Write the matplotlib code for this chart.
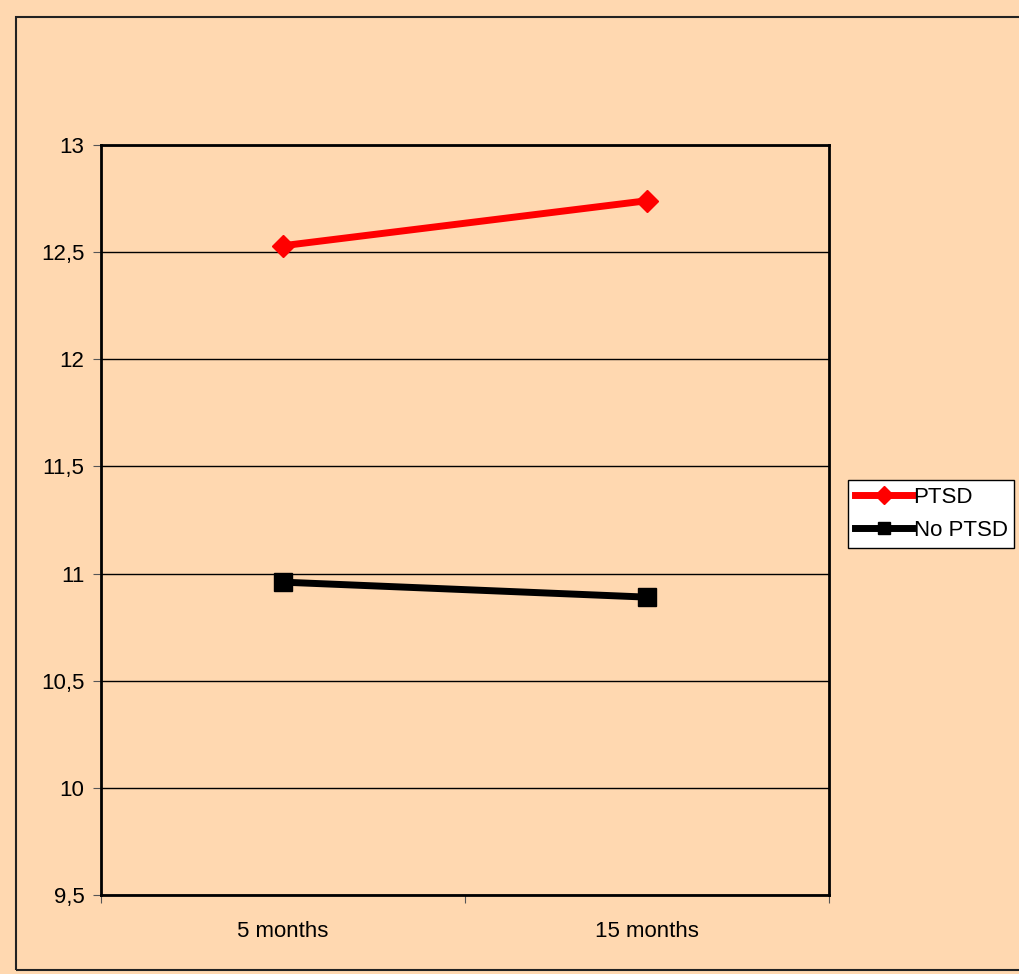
import matplotlib
matplotlib.use("Agg")
import matplotlib.pyplot as plt
from matplotlib.patches import Rectangle
import numpy as np

plt.rcParams['font.family'] = ['Liberation Sans', 'DejaVu Sans']

categories = ['5 months', '15 months']
ptsd = [12.53, 12.74]
no_ptsd = [10.96, 10.89]
yticks = [9.5, 10, 10.5, 11, 11.5, 12, 12.5, 13]
ytick_labels = ['9,5', '10', '10,5', '11', '11,5', '12', '12,5', '13']

bg = '#FFD8B0'
fig = plt.figure(figsize=(10.19, 9.74), dpi=100, facecolor=bg)
ax = fig.add_axes([101/1019, 79/974, 728/1019, 750/974])
ax.set_facecolor(bg)

# outer chart border
fig.patches.append(Rectangle((16/1019, 4/974), 1.0, 953/974, transform=fig.transFigure,
                             fill=False, edgecolor='#222222', linewidth=1.5))

x = np.arange(len(categories))
ax.plot(x, ptsd, color='#FF0000', lw=5, marker='D', markersize=11, label='PTSD')
ax.plot(x, no_ptsd, color='black', lw=5, marker='s', markersize=13, label='No PTSD')

ax.set_xlim(-0.5, 1.5)
ax.set_ylim(9.5, 13)
ax.set_yticks(yticks)
ax.set_yticklabels(ytick_labels)
ax.yaxis.grid(True, color='black', lw=1)
ax.set_axisbelow(True)

ax.set_xticks([-0.5, 0.5, 1.5])
ax.set_xticklabels([])
ax.set_xticks(x, minor=True)
ax.set_xticklabels(categories, minor=True)
ax.tick_params(axis='x', which='minor', length=0, labelsize=16, pad=19)
ax.tick_params(axis='x', which='major', direction='out', length=6, color='#555555')
ax.tick_params(axis='y', direction='out', length=6, color='#555555', labelsize=16, pad=6)

for s in ax.spines.values():
    s.set_linewidth(2)
    s.set_color('black')

leg = fig.legend(loc='upper left', bbox_to_anchor=(848/1019, 1 - 480/974),
                 fontsize=16, frameon=True, fancybox=False, framealpha=1,
                 handlelength=2.6, handletextpad=0.05, borderpad=0.3,
                 labelspacing=0.55, borderaxespad=0)
leg.get_frame().set_edgecolor('black')
leg.get_frame().set_linewidth(1)
leg.get_frame().set_facecolor('white')
for h in leg.legend_handles:
    h.set_markersize(9)

fig.savefig('out.png', dpi=100, facecolor=bg)
